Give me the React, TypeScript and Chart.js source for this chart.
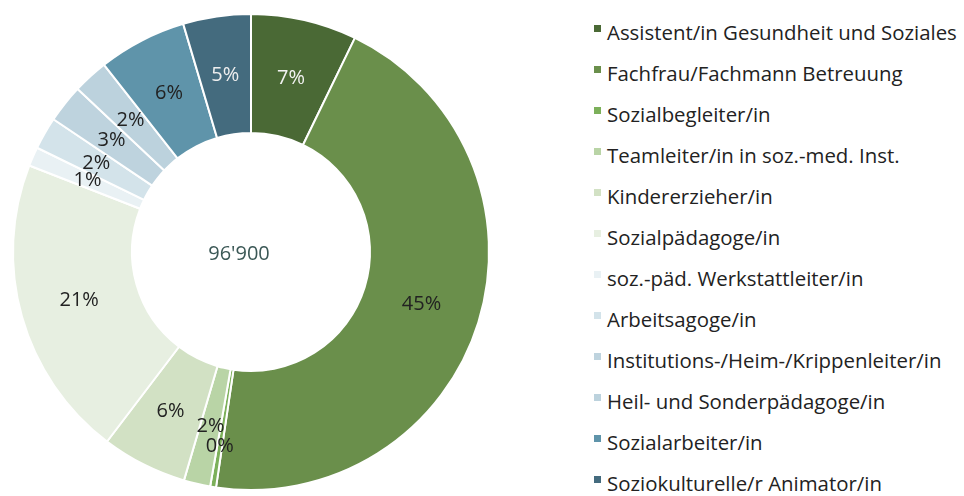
import React, { useEffect, useRef } from "react";
import { Chart, registerables } from "chart.js";

Chart.register(...registerables);

const categories = [
  "Assistent/in Gesundheit und Soziales",
  "Fachfrau/Fachmann Betreuung",
  "Sozialbegleiter/in",
  "Teamleiter/in in soz.-med. Inst.",
  "Kindererzieher/in",
  "Sozialpädagoge/in",
  "soz.-päd. Werkstattleiter/in",
  "Arbeitsagoge/in",
  "Institutions-/Heim-/Krippenleiter/in",
  "Heil- und Sonderpädagoge/in",
  "Sozialarbeiter/in",
  "Soziokulturelle/r Animator/in",
];

const shares = [7.2, 45.2, 0.4, 1.8, 5.8, 20.6, 1.3, 2.2, 2.6, 2.4, 6.0, 4.6];

const colors = [
  "#4a6935",
  "#6a8f4b",
  "#7cb05a",
  "#b9d4a6",
  "#d2e1c4",
  "#e7efe1",
  "#e9f1f4",
  "#d3e3ea",
  "#bed3de",
  "#bcd2dd",
  "#5f94aa",
  "#446b7e",
];

const labelColors = [
  "#f2f2f2", "#222222", "#222222", "#222222", "#222222", "#222222",
  "#222222", "#222222", "#222222", "#222222", "#222222", "#eeeeee",
];

const centerText = "96'900";
const FONT = "'Open Sans', Lato, sans-serif";

const labelPlugin = {
  id: "sliceLabels",
  afterDatasetsDraw(chart: any) {
    const ctx = chart.ctx;
    const meta = chart.getDatasetMeta(0);
    const data = chart.data.datasets[0].data as number[];
    const total = data.reduce((a, b) => a + b, 0);
    ctx.save();
    ctx.font = `20px ${FONT}`;
    ctx.textAlign = "center";
    ctx.textBaseline = "middle";
    meta.data.forEach((arc: any, i: number) => {
      const pct = (data[i] / total) * 100;
      const { x, y, startAngle, endAngle, innerRadius, outerRadius } = arc.getProps(
        ["x", "y", "startAngle", "endAngle", "innerRadius", "outerRadius"],
        true
      );
      const mid = (startAngle + endAngle) / 2;
      let r = (innerRadius + outerRadius) / 2;
      if (pct < 1) r += 18;
      ctx.fillStyle = labelColors[i];
      ctx.fillText(`${Math.round(pct)}%`, x + Math.cos(mid) * r, y + Math.sin(mid) * r);
    });
    const a0 = meta.data[0];
    ctx.font = `20px ${FONT}`;
    ctx.fillStyle = "#3b5856";
    ctx.fillText(centerText, a0.x - 12, a0.y + 2);
    ctx.restore();
  },
};

export default function App() {
  const ref = useRef<HTMLCanvasElement | null>(null);
  useEffect(() => {
    document.body.style.margin = "0";
    if (!ref.current) return;
    const chart = new Chart(ref.current, {
      type: "doughnut",
      data: {
        labels: categories,
        datasets: [
          {
            data: shares,
            backgroundColor: colors,
            borderColor: "#ffffff",
            borderWidth: 2,
          },
        ],
      },
      options: {
        animation: false,
        responsive: false,
        cutout: "50%",
        layout: { padding: { left: 12, right: 12, top: 13, bottom: 5 } },
        plugins: {
          legend: { display: false },
          tooltip: { enabled: false },
        },
      },
      plugins: [labelPlugin],
    });
    return () => chart.destroy();
  }, []);

  return (
    <div style={{ position: "relative", width: 964, height: 496, background: "#fff", overflow: "hidden" }}>
      <canvas ref={ref} width={502} height={496} style={{ position: "absolute", left: 0, top: 0 }} />
      <div style={{ position: "absolute", left: 594, top: 0 }}>
        {categories.map((c, i) => (
          <div
            key={c}
            style={{
              position: "absolute",
              left: 0,
              top: 18 + 41 * i,
              whiteSpace: "nowrap",
              font: `20.4px ${FONT}`,
              color: "#222",
              lineHeight: "28px",
            }}
          >
            <span
              style={{
                position: "absolute",
                left: 0,
                top: 7,
                width: 7,
                height: 7,
                background: colors[i],
              }}
            />
            <span style={{ position: "absolute", left: 13, top: 0 }}>{c}</span>
          </div>
        ))}
      </div>
    </div>
  );
}
